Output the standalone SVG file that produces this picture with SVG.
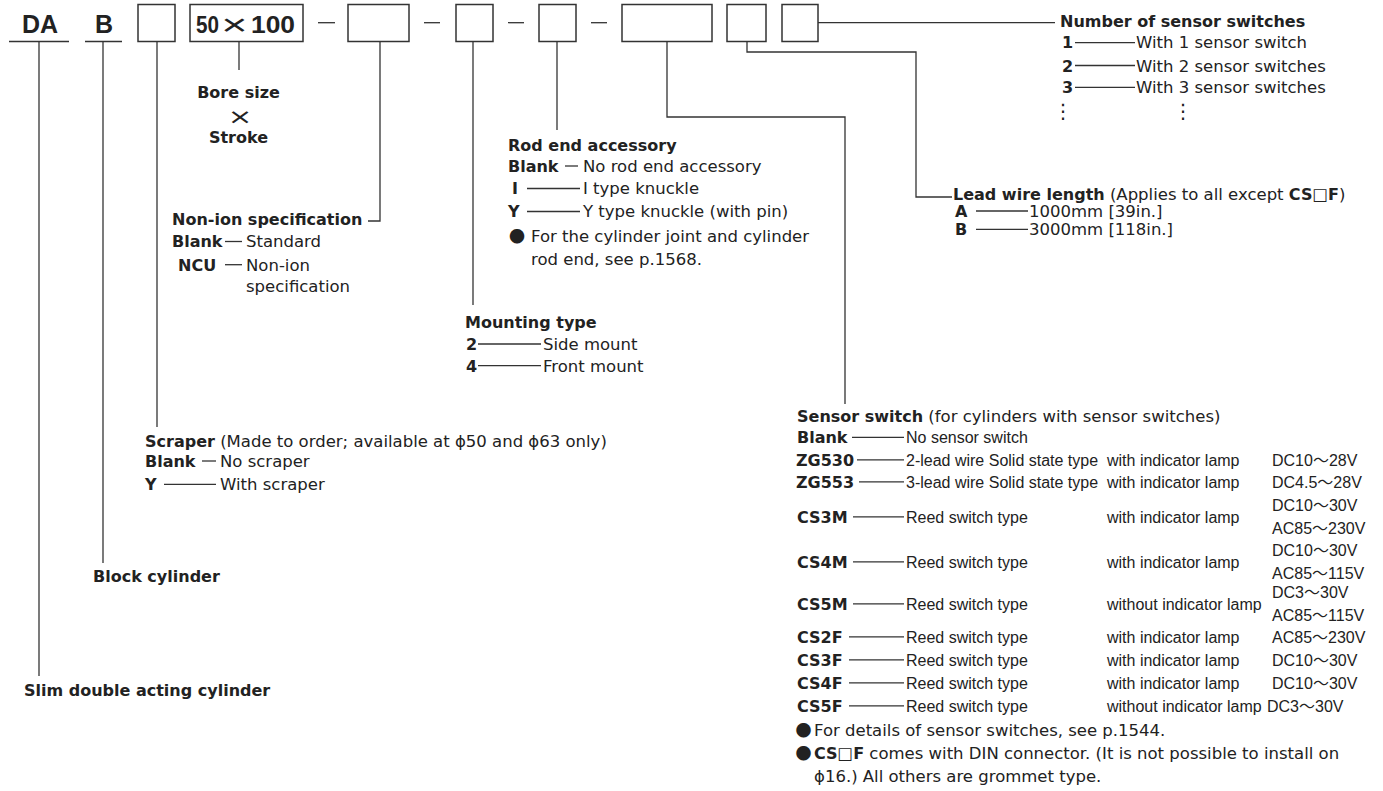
<svg xmlns="http://www.w3.org/2000/svg" width="1383" height="791" viewBox="0 0 1383 791">
<style>
text { fill:#222; }
.b { font-family:"DejaVu Sans",sans-serif; font-weight:bold; font-size:16px; }
.r { font-family:"DejaVu Sans",sans-serif; font-size:16.5px; }
.c { font-family:"Liberation Sans","Noto Sans CJK JP",sans-serif; font-size:16px; }
.t { font-family:"Liberation Sans",sans-serif; font-weight:bold; font-size:24px; }
.m { font-family:"Liberation Sans",sans-serif; }
.bul { font-family:"Noto Sans CJK JP",sans-serif; font-size:16px; }
.ln { stroke:#333; stroke-width:1.3; fill:none; }
.box { stroke:#333; stroke-width:1.5; fill:#fff; }
</style>
<rect width="1383" height="791" fill="#fff"/>

<g id="connectors">
  <path class="ln" d="M39,41.5 V676"/>
  <path class="ln" d="M103,41.5 V563"/>
  <path class="ln" d="M157,41.5 V427"/>
  <path class="ln" d="M239,41.5 V70"/>
  <path class="ln" d="M380,41.5 V221 H368"/>
  <path class="ln" d="M473,41.5 V305"/>
  <path class="ln" d="M557,41.5 V130"/>
  <path class="ln" d="M667,41.5 V117 H845 V404"/>
  <path class="ln" d="M747,41.5 V52 H916 V197 H952"/>
  <path class="ln" d="M818,22.7 H1055"/>
</g>

<g id="model-code">
  <text class="t" x="22" y="33" style="font-size:25px">DA</text>
  <line class="ln" x1="9" y1="41.5" x2="69" y2="41.5" style="stroke-width:1.5"/>
  <text class="t" x="95" y="33" style="font-size:25px">B</text>
  <line class="ln" x1="85" y1="41.5" x2="122" y2="41.5" style="stroke-width:1.5"/>
  <rect class="box" x="138" y="4.5" width="37" height="37"/>
  <rect class="box" x="190" y="4.5" width="113" height="37"/>
  <text class="t" x="196" y="33" textLength="23" lengthAdjust="spacingAndGlyphs">50</text>
  <text class="m" transform="translate(234.5,34.5) scale(1.5,1)" text-anchor="middle" style="font-size:30px">×</text>
  <text class="t" x="251" y="33" textLength="44" lengthAdjust="spacingAndGlyphs">100</text>
  <line class="ln" x1="318" y1="22.7" x2="335" y2="22.7"/>
  <rect class="box" x="348" y="4.5" width="61" height="37"/>
  <line class="ln" x1="424" y1="22.7" x2="440" y2="22.7"/>
  <rect class="box" x="456" y="4.5" width="37" height="37"/>
  <line class="ln" x1="508" y1="22.7" x2="524" y2="22.7"/>
  <rect class="box" x="539" y="4.5" width="37" height="37"/>
  <line class="ln" x1="591" y1="22.7" x2="607" y2="22.7"/>
  <rect class="box" x="622" y="4.5" width="90" height="37"/>
  <rect class="box" x="727" y="4.5" width="39" height="37"/>
  <rect class="box" x="782" y="4.5" width="36" height="37"/>
</g>

<g id="bore-stroke">
  <text class="b" x="238.5" y="98" text-anchor="middle">Bore size</text>
  <text class="r" transform="translate(240,124) scale(1.4,1)" text-anchor="middle" style="font-size:21px">×</text>
  <text class="b" x="238.5" y="143" text-anchor="middle">Stroke</text>
</g>

<g id="number-of-switches">
  <text class="b" x="1060" y="27.3">Number of sensor switches</text>
  <text class="b" x="1062" y="48.3">1</text>
  <line class="ln" x1="1075" y1="42.7" x2="1135" y2="42.7"/>
  <text class="r" x="1136" y="48.3">With 1 sensor switch</text>
  <text class="b" x="1062" y="71.7">2</text>
  <line class="ln" x1="1075" y1="65.5" x2="1135" y2="65.5"/>
  <text class="r" x="1136" y="71.7">With 2 sensor switches</text>
  <text class="b" x="1062" y="93.3">3</text>
  <line class="ln" x1="1075" y1="87.3" x2="1135" y2="87.3"/>
  <text class="r" x="1136" y="93.3">With 3 sensor switches</text>
  <text class="r" x="1063" y="118" text-anchor="middle" style="font-size:20px">⋮</text>
  <text class="r" x="1183" y="118" text-anchor="middle" style="font-size:20px">⋮</text>
</g>

<g id="lead-wire">
  <text x="953" y="199.5"><tspan class="b">Lead wire length</tspan><tspan class="r"> (Applies to all except </tspan><tspan class="b">CS</tspan><tspan class="r">□</tspan><tspan class="b">F</tspan><tspan class="r">)</tspan></text>
  <text class="b" x="955" y="216.7">A</text>
  <line class="ln" x1="976" y1="211" x2="1028" y2="211"/>
  <text class="r" x="1029" y="216.7">1000mm [39in.]</text>
  <text class="b" x="955" y="235">B</text>
  <line class="ln" x1="976" y1="229.3" x2="1028" y2="229.3"/>
  <text class="r" x="1029" y="235">3000mm [118in.]</text>
</g>

<g id="rod-end">
  <text class="b" x="508" y="150.7">Rod end accessory</text>
  <text class="b" x="508" y="171.7">Blank</text>
  <line class="ln" x1="565" y1="166" x2="578" y2="166"/>
  <text class="r" x="583" y="171.7">No rod end accessory</text>
  <text class="b" x="512" y="194.3">I</text>
  <line class="ln" x1="527" y1="188.5" x2="580" y2="188.5"/>
  <text class="r" x="583" y="194.3">I type knuckle</text>
  <text class="b" x="508" y="217.3">Y</text>
  <line class="ln" x1="527" y1="211.5" x2="580" y2="211.5"/>
  <text class="r" x="583" y="217.3">Y type knuckle (with pin)</text>
  <text class="bul" x="517" y="242" text-anchor="middle">●</text>
  <text class="r" x="531" y="241.7">For the cylinder joint and cylinder</text>
  <text class="r" x="531" y="265">rod end, see p.1568.</text>
</g>

<g id="non-ion">
  <text class="b" x="172" y="225">Non-ion specification</text>
  <text class="b" x="172" y="247.3">Blank</text>
  <line class="ln" x1="225" y1="241.5" x2="242" y2="241.5"/>
  <text class="r" x="246" y="247.3">Standard</text>
  <text class="b" x="178" y="270.7">NCU</text>
  <line class="ln" x1="225" y1="264.7" x2="242" y2="264.7"/>
  <text class="r" x="246" y="270.7">Non-ion</text>
  <text class="r" x="246" y="291.7">specification</text>
</g>

<g id="mounting">
  <text class="b" x="465" y="328">Mounting type</text>
  <text class="b" x="466" y="350">2</text>
  <line class="ln" x1="478" y1="344" x2="541" y2="344"/>
  <text class="r" x="543" y="350">Side mount</text>
  <text class="b" x="466" y="371.7">4</text>
  <line class="ln" x1="478" y1="365.7" x2="541" y2="365.7"/>
  <text class="r" x="543" y="371.7">Front mount</text>
</g>

<g id="scraper">
  <text x="145" y="446.7"><tspan class="b">Scraper</tspan><tspan class="r"> (Made to order; available at ϕ50 and ϕ63 only)</tspan></text>
  <text class="b" x="145" y="466.7">Blank</text>
  <line class="ln" x1="202" y1="461" x2="216" y2="461"/>
  <text class="r" x="220" y="466.7">No scraper</text>
  <text class="b" x="145" y="490">Y</text>
  <line class="ln" x1="164" y1="484.3" x2="216" y2="484.3"/>
  <text class="r" x="220" y="490">With scraper</text>
</g>

<g id="block-cylinder">
  <text class="b" x="93" y="582">Block cylinder</text>
</g>

<g id="slim-cylinder">
  <text class="b" x="24" y="696">Slim double acting cylinder</text>
</g>

<g id="sensor-switch">
  <text x="797" y="421.5"><tspan class="b">Sensor switch</tspan><tspan class="r"> (for cylinders with sensor switches)</tspan></text>

  <text class="b" x="797" y="443">Blank</text>
  <line class="ln" x1="852" y1="437.3" x2="904" y2="437.3"/>
  <text class="c" x="906" y="443">No sensor switch</text>

  <text class="b" x="796" y="465.5">ZG530</text>
  <line class="ln" x1="857" y1="459.8" x2="904" y2="459.8"/>
  <text class="c" x="906" y="465.5">2-lead wire Solid state type</text>
  <text class="c" x="1107" y="465.5">with indicator lamp</text>
  <text class="c" x="1272" y="465.5">DC10～28V</text>

  <text class="b" x="796" y="487.5">ZG553</text>
  <line class="ln" x1="859" y1="481.8" x2="904" y2="481.8"/>
  <text class="c" x="906" y="487.5">3-lead wire Solid state type</text>
  <text class="c" x="1107" y="487.5">with indicator lamp</text>
  <text class="c" x="1272" y="487.5">DC4.5～28V</text>

  <text class="b" x="797" y="522.5">CS3M</text>
  <line class="ln" x1="853" y1="516.8" x2="904" y2="516.8"/>
  <text class="c" x="906" y="522.5">Reed switch type</text>
  <text class="c" x="1107" y="522.5">with indicator lamp</text>
  <text class="c" x="1272" y="511">DC10～30V</text>
  <text class="c" x="1272" y="534">AC85～230V</text>

  <text class="b" x="797" y="567.5">CS4M</text>
  <line class="ln" x1="853" y1="561.8" x2="904" y2="561.8"/>
  <text class="c" x="906" y="567.5">Reed switch type</text>
  <text class="c" x="1107" y="567.5">with indicator lamp</text>
  <text class="c" x="1272" y="556">DC10～30V</text>
  <text class="c" x="1272" y="579">AC85～115V</text>

  <text class="b" x="797" y="609.5">CS5M</text>
  <line class="ln" x1="853" y1="603.8" x2="904" y2="603.8"/>
  <text class="c" x="906" y="609.5">Reed switch type</text>
  <text class="c" x="1107" y="609.5">without indicator lamp</text>
  <text class="c" x="1272" y="598">DC3～30V</text>
  <text class="c" x="1272" y="621">AC85～115V</text>

  <text class="b" x="797" y="642.5">CS2F</text>
  <line class="ln" x1="849" y1="636.8" x2="904" y2="636.8"/>
  <text class="c" x="906" y="642.5">Reed switch type</text>
  <text class="c" x="1107" y="642.5">with indicator lamp</text>
  <text class="c" x="1272" y="642.5">AC85～230V</text>

  <text class="b" x="797" y="665.5">CS3F</text>
  <line class="ln" x1="849" y1="659.8" x2="904" y2="659.8"/>
  <text class="c" x="906" y="665.5">Reed switch type</text>
  <text class="c" x="1107" y="665.5">with indicator lamp</text>
  <text class="c" x="1272" y="665.5">DC10～30V</text>

  <text class="b" x="797" y="688.5">CS4F</text>
  <line class="ln" x1="849" y1="682.8" x2="904" y2="682.8"/>
  <text class="c" x="906" y="688.5">Reed switch type</text>
  <text class="c" x="1107" y="688.5">with indicator lamp</text>
  <text class="c" x="1272" y="688.5">DC10～30V</text>

  <text class="b" x="797" y="711.5">CS5F</text>
  <line class="ln" x1="849" y1="705.8" x2="904" y2="705.8"/>
  <text class="c" x="906" y="711.5">Reed switch type</text>
  <text class="c" x="1107" y="711.5">without indicator lamp</text>
  <text class="c" x="1267" y="711.5">DC3～30V</text>

  <text class="bul" x="803.5" y="736" text-anchor="middle">●</text>
  <text class="r" x="814" y="735.5">For details of sensor switches, see p.1544.</text>
  <text class="bul" x="803.5" y="759" text-anchor="middle">●</text>
  <text x="814" y="758.5"><tspan class="b">CS</tspan><tspan class="r">□</tspan><tspan class="b">F</tspan><tspan class="r"> comes with DIN connector. (It is not possible to install on</tspan></text>
  <text class="r" x="814" y="782">ϕ16.) All others are grommet type.</text>
</g>
</svg>
